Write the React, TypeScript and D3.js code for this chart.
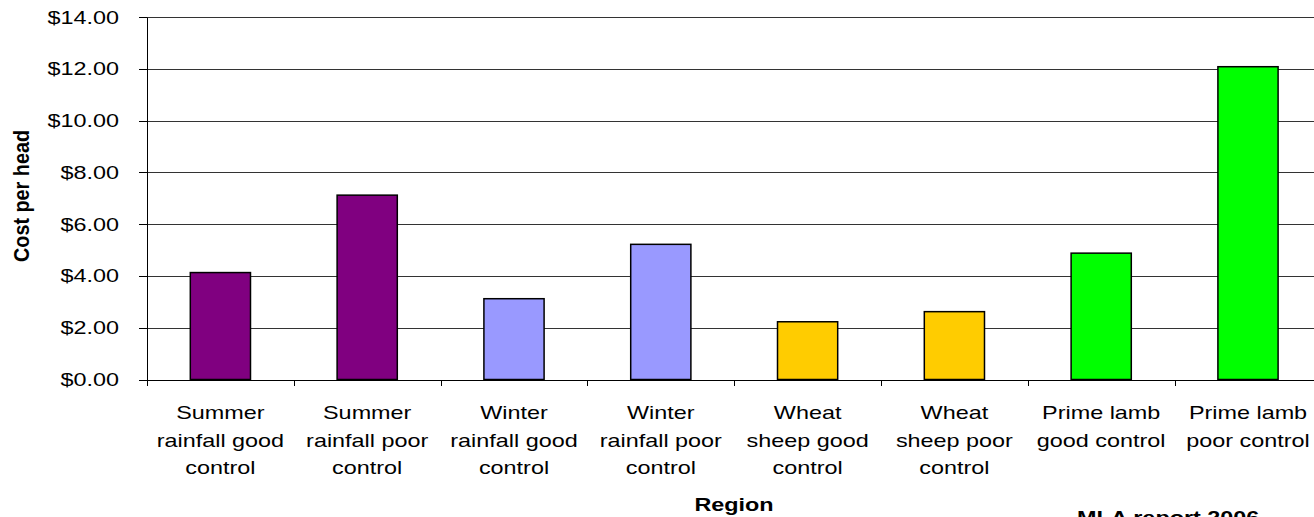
import React from "react";
import * as d3 from "d3";

const categories: string[][] = [
  ["Summer", "rainfall good", "control"],
  ["Summer", "rainfall poor", "control"],
  ["Winter", "rainfall good", "control"],
  ["Winter", "rainfall poor", "control"],
  ["Wheat", "sheep good", "control"],
  ["Wheat", "sheep poor", "control"],
  ["Prime lamb", "good control"],
  ["Prime lamb", "poor control"],
];
const values: number[] = [4.13, 7.12, 3.12, 5.22, 2.23, 2.62, 4.88, 12.08];
const colors: string[] = ["#800080", "#800080", "#9999FF", "#9999FF", "#FFCC00", "#FFCC00", "#00FF00", "#00FF00"];
const yTicks: number[] = [0, 2, 4, 6, 8, 10, 12, 14];
const yTitle = "Cost per head";
const xTitle = "Region";
const note = "MLA report 2006";

const W = 1314;
const H = 517;
const FONT = "'Liberation Sans', Arial, sans-serif";
const SX = 1.3;

export default function App() {
  const x = d3
    .scaleBand<number>()
    .domain(d3.range(values.length))
    .range([147, 147 + 8 * 146.8])
    .paddingInner(0.59)
    .paddingOuter(0.295);
  const xb = d3.scaleBand<number>().domain(d3.range(values.length)).range([147, 147 + 8 * 146.8]);
  const y = d3.scaleLinear().domain([0, 14]).range([379.5, 17]);
  const fmt = (v: number) => "$" + d3.format(".2f")(v);

  return (
    <svg
      width={W}
      height={H}
      style={{ position: "absolute", left: 0, top: 0, background: "#fff" }}
      fontFamily={FONT}
    >
      {/* gridlines */}
      {yTicks.map((t) => (
        <line
          key={"g" + t}
          x1={147}
          x2={W}
          y1={Math.round(y(t)) + 0.5}
          y2={Math.round(y(t)) + 0.5}
          stroke="#333"
          strokeWidth={1}
        />
      ))}
      {/* bars */}
      {values.map((v, i) => (
        <rect
          key={"b" + i}
          x={x(i)!}
          y={y(v)}
          width={x.bandwidth()}
          height={y(0) - y(v)}
          fill={colors[i]}
          stroke="#000"
          strokeWidth={1.5}
        />
      ))}
      {/* y axis */}
      <line x1={147.5} x2={147.5} y1={Math.round(y(14)) + 0.5} y2={Math.round(y(0)) + 0.5} stroke="#000" />
      {yTicks.map((t) => (
        <g key={"yt" + t}>
          <line x1={139} x2={147} y1={Math.round(y(t)) + 0.5} y2={Math.round(y(t)) + 0.5} stroke="#000" />
          <text
            transform={`translate(119,${y(t) + 6.5}) scale(${SX},1)`}
            textAnchor="end"
            fontSize={18}
            fill="#000"
          >
            {fmt(t)}
          </text>
        </g>
      ))}
      {/* x axis */}
      <line x1={147} x2={W} y1={Math.round(y(0)) + 0.5} y2={Math.round(y(0)) + 0.5} stroke="#000" />
      {d3.range(values.length + 1).map((i) => {
        const xx = Math.round(147 + i * xb.bandwidth()) + 0.5;
        return <line key={"xt" + i} x1={xx} x2={xx} y1={380} y2={386} stroke="#000" />;
      })}
      {categories.map((lines, i) => {
        const cx = xb(i)! + xb.bandwidth() / 2;
        return (
          <g key={"xl" + i}>
            {lines.map((ln, j) => (
              <text
                key={j}
                transform={`translate(${cx},${419 + j * 27.5}) scale(${SX},1)`}
                textAnchor="middle"
                fontSize={18}
                fill="#000"
              >
                {ln}
              </text>
            ))}
          </g>
        );
      })}
      {/* titles */}
      <text
        transform={`translate(29,196) rotate(-90) scale(1.1,1.25)`}
        textAnchor="middle"
        fontSize={18}
        fontWeight="bold"
        fill="#000"
      >
        {yTitle}
      </text>
      <text
        transform={`translate(734,511) scale(${SX},1)`}
        textAnchor="middle"
        fontSize={18}
        fontWeight="bold"
        fill="#000"
      >
        {xTitle}
      </text>
      <text
        transform={`translate(1077,524) scale(${SX},1)`}
        textAnchor="start"
        fontSize={18}
        fontWeight="bold"
        fill="#000"
      >
        {note}
      </text>
    </svg>
  );
}
